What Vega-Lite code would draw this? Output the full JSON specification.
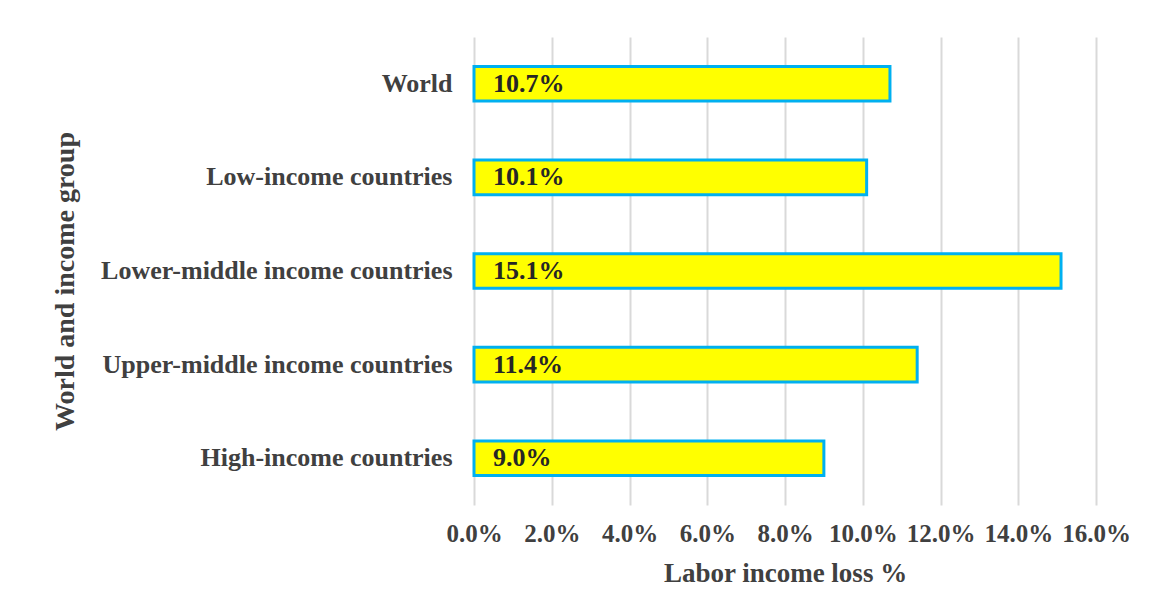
{
  "$schema": "https://vega.github.io/schema/vega-lite/v6.json",
  "autosize": {"type": "none"},
  "width": 622,
  "height": 468,
  "padding": {"left": 474, "top": 37, "right": 61, "bottom": 109},
  "background": "white",
  "config": {
    "view": {"stroke": null},
    "font": "Liberation Serif",
    "axis": {"labelFont": "Liberation Serif", "titleFont": "Liberation Serif", "labelColor": "#404040", "titleColor": "#404040", "labelFontWeight": "bold", "titleFontWeight": "bold"}
  },
  "data": {
    "values": [
      {"group": "World", "loss": 0.107},
      {"group": "Low-income countries", "loss": 0.101},
      {"group": "Lower-middle income countries", "loss": 0.151},
      {"group": "Upper-middle income countries", "loss": 0.114},
      {"group": "High-income countries", "loss": 0.09}
    ]
  },
  "encoding": {
    "y": {
      "field": "group", "type": "nominal", "sort": null,
      "scale": {"paddingInner": 0.63, "paddingOuter": 0.315},
      "axis": {"title": "World and income group", "labelFontSize": 26, "titleFontSize": 28, "labelPadding": 22, "titleX": -409, "titleY": 244, "titleAngle": -90, "titleAlign": "center", "titleBaseline": "middle", "labelLimit": 450, "domain": false, "ticks": false, "grid": false}
    },
    "x": {
      "field": "loss", "type": "quantitative",
      "scale": {"domain": [0, 0.16], "nice": false},
      "axis": {"title": "Labor income loss %", "format": ".1%", "values": [0, 0.02, 0.04, 0.06, 0.08, 0.1, 0.12, 0.14, 0.16], "labelFontSize": 25, "titleFontSize": 27, "labelPadding": 16, "titlePadding": 14, "labelOverlap": false, "labelBound": false, "labelFlush": false, "domain": false, "ticks": false, "grid": true, "gridColor": "#d9d9d9", "gridWidth": 2}
    }
  },
  "layer": [
    {"mark": {"type": "bar", "fill": "#FFFF00", "stroke": "#00B0F0", "strokeWidth": 3}},
    {"mark": {"type": "text", "align": "left", "dx": 19, "fontSize": 26, "fontWeight": "bold", "color": "#262626", "font": "Liberation Serif"},
     "encoding": {"x": {"datum": 0, "type": "quantitative"}, "text": {"field": "loss", "type": "quantitative", "format": ".1%"}}}
  ]
}
